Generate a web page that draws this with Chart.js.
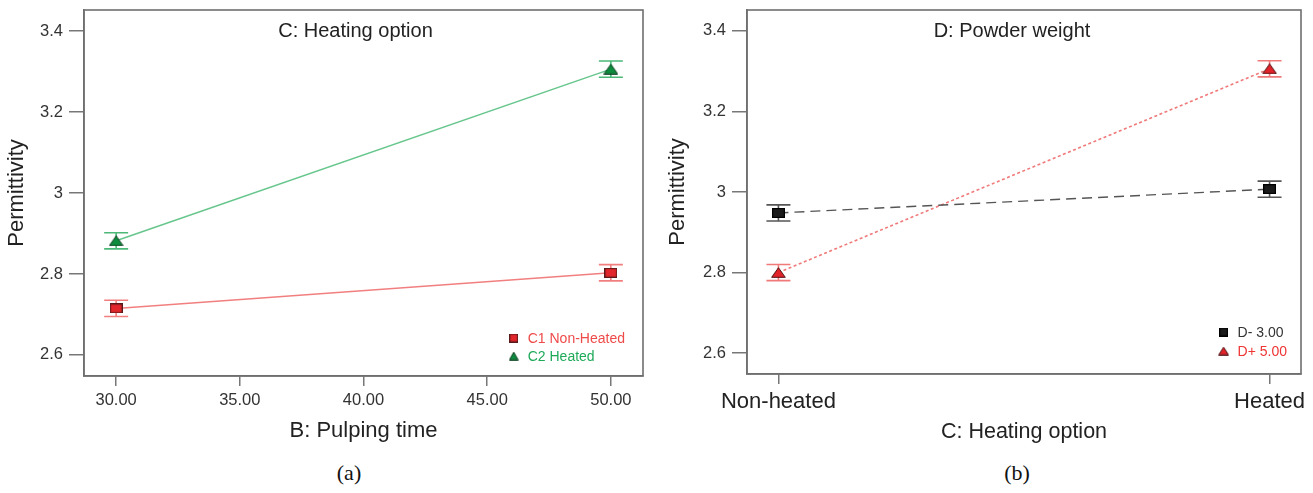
<!DOCTYPE html>
<html>
<head>
<meta charset="utf-8">
<script src="https://cdn.jsdelivr.net/npm/chart.js@4.4.1/dist/chart.umd.min.js"></script>
<style>
  html, body { margin: 0; padding: 0; background: #fff; }
  #wrap { position: relative; width: 1313px; height: 493px; overflow: hidden; }
  .box { position: absolute; top: 0; height: 460px; }
  #boxA { left: 0; width: 655px; }
  #boxB { left: 655px; width: 658px; }
  .cap { position: absolute; font-family: "Liberation Serif", "DejaVu Serif", serif; font-size: 22px; color: #111; transform: translateX(-50%); top: 460px; }
</style>
</head>
<body>
<div id="wrap">
  <div class="box" id="boxA"><canvas id="chartA"></canvas></div>
  <div class="box" id="boxB"><canvas id="chartB"></canvas></div>
  <div class="cap" style="left:349px">(a)</div>
  <div class="cap" style="left:1017px">(b)</div>
</div>
<script>
// ---- Data ----
const pulpingTime = [30, 50];
const c1NonHeated = [2.715, 2.803];
const c2Heated = [2.882, 3.306];
const c1Err = [0.02, 0.02];
const c2Err = [0.02, 0.02];

const heatingOptions = ['Non-heated', 'Heated'];
const dMinus = [2.948, 3.007];
const dPlus = [2.800, 3.306];
const dMinusErr = [0.02, 0.02];
const dPlusErr = [0.02, 0.02];

const yTicksRange = [2.548, 3.452];
const FONT = '"Liberation Sans", Arial, sans-serif';

function makeRect(w, h, fill, stroke) {
  const c = document.createElement('canvas');
  c.width = w; c.height = h;
  const x = c.getContext('2d');
  x.fillStyle = fill; x.fillRect(0, 0, w, h);
  x.strokeStyle = stroke; x.lineWidth = 1.2; x.strokeRect(0.6, 0.6, w - 1.2, h - 1.2);
  return c;
}
function makeTri(w, h, fill, stroke) {
  const c = document.createElement('canvas');
  c.width = w; c.height = h;
  const x = c.getContext('2d');
  x.beginPath(); x.moveTo(w / 2, 0.7); x.lineTo(w - 0.7, h - 0.7); x.lineTo(0.7, h - 0.7); x.closePath();
  x.fillStyle = fill; x.fill();
  x.strokeStyle = stroke; x.lineWidth = 1; x.stroke();
  return c;
}

const errorBars = {
  id: 'errorBars',
  beforeDatasetsDraw(chart) {
    const ctx = chart.ctx;
    const xs = chart.scales.x, ys = chart.scales.y;
    chart.data.datasets.forEach(ds => {
      if (!ds.errors) return;
      ctx.save();
      ctx.strokeStyle = ds.errorColor; ctx.lineWidth = 1.6;
      ds.data.forEach((p, i) => {
        const px = xs.getPixelForValue(p.x);
        const top = ys.getPixelForValue(p.y + ds.errors[i]);
        const bot = ys.getPixelForValue(p.y - ds.errors[i]);
        ctx.beginPath();
        ctx.moveTo(px, top); ctx.lineTo(px, bot);
        ctx.moveTo(px - 12, top); ctx.lineTo(px + 12, top);
        ctx.moveTo(px - 12, bot); ctx.lineTo(px + 12, bot);
        ctx.stroke();
      });
      ctx.restore();
    });
  }
};

const frame = {
  id: 'frame',
  afterDraw(chart, args, opts) {
    const ctx = chart.ctx, a = chart.chartArea;
    ctx.save();
    ctx.strokeStyle = '#6f6f6f'; ctx.lineWidth = 1.6;
    ctx.strokeRect(a.left, a.top, a.right - a.left, a.bottom - a.top);
    // inner title
    ctx.fillStyle = '#222';
    ctx.font = '20px ' + FONT;
    ctx.textAlign = 'center'; ctx.textBaseline = 'middle';
    ctx.fillText(opts.title, (a.left + a.right) / 2 + opts.titleDx, a.top + 21);
    // legend
    ctx.font = '14px ' + FONT;
    const dss = chart.data.datasets;
    let maxW = 0;
    dss.forEach(d => { maxW = Math.max(maxW, ctx.measureText(d.label).width); });
    const mx = a.right - opts.legendRight - maxW - 14;
    dss.forEach((d, i) => {
      const y = a.bottom - opts.legendRows[i];
      const img = d.legendImg;
      ctx.drawImage(img, mx - img.width / 2, y - img.height / 2);
      ctx.fillStyle = d.legendColor;
      ctx.textAlign = 'left'; ctx.textBaseline = 'middle';
      ctx.fillText(d.label, mx + 14, y + 1);
    });
    ctx.restore();
  }
};

function yAxis(width, titlePad) {
  return {
    type: 'linear', min: yTicksRange[0], max: yTicksRange[1],
    afterFit(s) { s.width = width; s.paddingTop = 0; s.paddingBottom = 0; },
    ticks: { stepSize: 0.2, includeBounds: false, padding: 6, color: '#333',
      font: { family: FONT, size: 16.5 },
      callback: v => String(+v.toFixed(1)) },
    grid: { drawOnChartArea: false, drawTicks: true, tickLength: 15, color: '#777', lineWidth: 1.5 },
    border: { display: true, color: '#6f6f6f', width: 1.6 },
    title: { display: true, text: 'Permittivity', color: '#222', font: { family: FONT, size: 22 }, padding: { top: titlePad, bottom: 0 } }
  };
}

// ---- Chart A ----
new Chart(document.getElementById('chartA'), {
  type: 'line',
  data: {
    datasets: [
      { label: 'C1 Non-Heated', data: pulpingTime.map((x, i) => ({ x, y: c1NonHeated[i] })),
        borderColor: '#f27f7f', borderWidth: 1.5, pointStyle: makeRect(13, 10, '#e3262b', '#5a1a1a'),
        errors: c1Err, errorColor: '#f27f7f', legendImg: makeRect(9, 9, '#e3262b', '#5a1a1a'), legendColor: '#ef4a4a' },
      { label: 'C2 Heated', data: pulpingTime.map((x, i) => ({ x, y: c2Heated[i] })),
        borderColor: '#66c68c', borderWidth: 1.5, pointStyle: makeTri(15, 11, '#0e8c3e', '#0a3d1e'),
        errors: c2Err, errorColor: '#4cb878', legendImg: makeTri(10, 9, '#0e8c3e', '#0a3d1e'), legendColor: '#1faa5a' }
    ]
  },
  options: {
    responsive: true, maintainAspectRatio: false, animation: false,
    layout: { padding: { left: 0, top: 10, right: 12, bottom: 0 } },
    plugins: { legend: { display: false }, tooltip: { enabled: false },
      frame: { title: 'C: Heating option', titleDx: -8, legendRight: 18, legendRows: [38, 20] } },
    scales: {
      x: { type: 'linear', min: 28.7, max: 51.3,
        afterFit(s) { s.height = 84; s.paddingLeft = 0; s.paddingRight = 0; },
        ticks: { stepSize: 5, includeBounds: false, padding: 5, color: '#333',
          font: { family: FONT, size: 16.5 }, callback: v => v.toFixed(2) },
        grid: { drawOnChartArea: false, drawTicks: true, tickLength: 10, color: '#777', lineWidth: 1.5 },
        border: { display: true, color: '#6f6f6f', width: 1.6 },
        title: { display: true, text: 'B: Pulping time', color: '#222', font: { family: FONT, size: 22 }, padding: { top: 0, bottom: 16 } } },
      y: yAxis(84, 4)
    }
  },
  plugins: [errorBars, frame]
});

// ---- Chart B ----
new Chart(document.getElementById('chartB'), {
  type: 'line',
  data: {
    datasets: [
      { label: 'D- 3.00', data: heatingOptions.map((c, i) => ({ x: i, y: dMinus[i] })),
        borderColor: '#555', borderWidth: 1.4, borderDash: [10, 6], pointStyle: makeRect(13, 10, '#1b1b1b', '#000'),
        errors: dMinusErr, errorColor: '#555', legendImg: makeRect(9, 9, '#1b1b1b', '#000'), legendColor: '#333' },
      { label: 'D+ 5.00', data: heatingOptions.map((c, i) => ({ x: i, y: dPlus[i] })),
        borderColor: '#f07a7a', borderWidth: 1.6, borderDash: [3, 2.5], pointStyle: makeTri(15, 11, '#e3232a', '#4a0e0e'),
        errors: dPlusErr, errorColor: '#f07a7a', legendImg: makeTri(11, 9, '#e3232a', '#4a0e0e'), legendColor: '#ef3434' }
    ]
  },
  options: {
    responsive: true, maintainAspectRatio: false, animation: false,
    layout: { padding: { left: 0, top: 10, right: 12, bottom: 0 } },
    plugins: { legend: { display: false }, tooltip: { enabled: false },
      frame: { title: 'D: Powder weight', titleDx: -12, legendRight: 14, legendRows: [42, 23] } },
    scales: {
      x: { type: 'linear', min: -0.064, max: 1.064,
        afterFit(s) { s.height = 86; s.paddingLeft = 0; s.paddingRight = 0; },
        ticks: { stepSize: 1, includeBounds: false, padding: 5, color: '#222',
          font: { family: FONT, size: 22 }, callback: v => heatingOptions[Math.round(v)] },
        grid: { drawOnChartArea: false, drawTicks: true, tickLength: 10, color: '#777', lineWidth: 1.5 },
        border: { display: true, color: '#6f6f6f', width: 1.6 },
        title: { display: true, text: 'C: Heating option', color: '#222', font: { family: FONT, size: 21.5 }, padding: { top: 0, bottom: 15 } } },
      y: yAxis(92, 10)
    }
  },
  plugins: [errorBars, frame]
});
</script>
</body>
</html>
